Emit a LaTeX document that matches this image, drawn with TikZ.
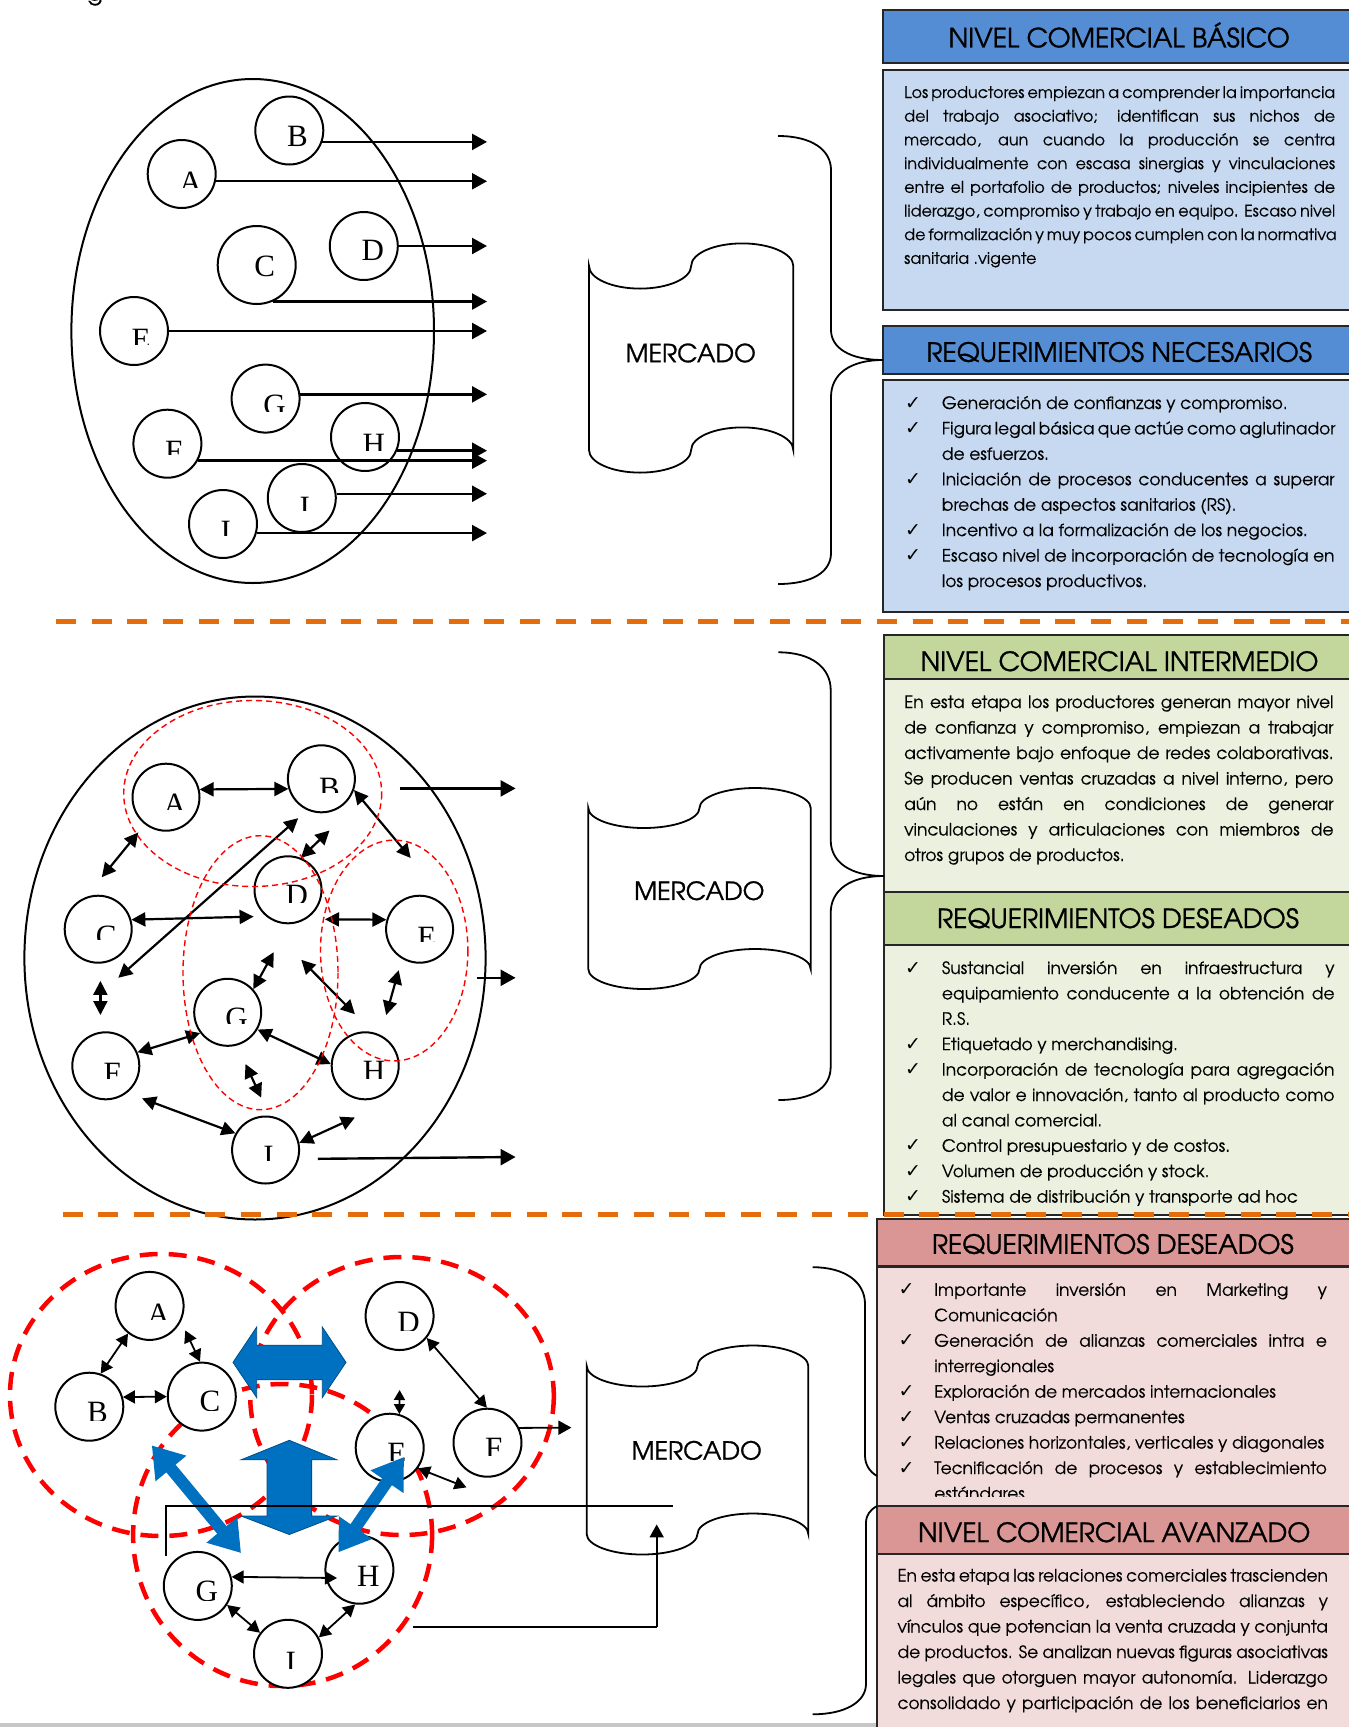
\documentclass[tikz,border=0pt]{standalone}
\usepackage{fontspec}
\setmainfont{texgyreadventor-regular.otf}[FakeBold=0.35]
\newfontfamily\headf{texgyreadventor-regular.otf}[FakeBold=1.0]
\newfontfamily\serifL{Liberation Serif}
\newfontfamily\symf{DejaVu Sans}
\usetikzlibrary{arrows.meta,calc}

\definecolor{bluehead}{RGB}{84,141,212}
\definecolor{bluebody}{RGB}{198,217,241}
\definecolor{greenhead}{RGB}{195,214,155}
\definecolor{greenbody}{RGB}{235,241,222}
\definecolor{pinkhead}{RGB}{217,150,148}
\definecolor{pinkbody}{RGB}{242,220,219}
\definecolor{dashorange}{RGB}{228,108,10}
\definecolor{blockblue}{RGB}{0,112,192}

% one line of a text block: justified or ragged
\newdimen\ckind
\newcommand\JLine[1]{\hbox to\hsize{#1}}
\newcommand\LLine[1]{\hbox to\hsize{#1\hfil}}
\newcommand\ChkMark{\hbox to\ckind{{\symf\fontsize{19}{19}\selectfont ✓}\hfil}}
\newcommand\ChkJ[1]{\hbox to\hsize{\ChkMark#1}}
\newcommand\ChkL[1]{\hbox to\hsize{\ChkMark#1\hfil}}
\newcommand\ConJ[1]{\hbox to\hsize{\hskip\ckind\relax#1}}
\newcommand\ConL[1]{\hbox to\hsize{\hskip\ckind\relax#1\hfil}}
\newcommand\TitleF{\headf\fontsize{26.5}{26.5}\selectfont}

% letter inside a circle, cut off a little above its baseline
% #1 circle, #2 letter, #3 baseline offset, #4 cut height
\newcommand\circletter[4]{%
  \begin{scope}
    \clip ($(#1)+(-40,-45)$) rectangle ($(#1)+(40,{#3-#4})$);
    \node[lettertext, anchor=base west] (#1-l) at ($(#1)+(-2.5,#3)$) {#2};
  \end{scope}}

% punched-tape outline: x0, y0, width, height, wave depth
\newcommand\tapeshape[5]{%
  \draw[tapeline] (#1,#2)
    .. controls (#1,{#2+0.55*#5}) and ({#1+0.45*#3/4},{#2+#5}) .. ({#1+#3/4},{#2+#5})
    .. controls ({#1+1.55*#3/4},{#2+#5}) and ({#1+#3/2},{#2+0.55*#5}) .. ({#1+#3/2},#2)
    .. controls ({#1+#3/2},{#2-0.55*#5}) and ({#1+2.45*#3/4},{#2-#5}) .. ({#1+3*#3/4},{#2-#5})
    .. controls ({#1+3.55*#3/4},{#2-#5}) and ({#1+#3},{#2-0.55*#5}) .. ({#1+#3},#2)
    -- ({#1+#3},{#2+#4})
    .. controls ({#1+#3},{#2+#4-0.55*#5}) and ({#1+3.55*#3/4},{#2+#4-#5}) .. ({#1+3*#3/4},{#2+#4-#5})
    .. controls ({#1+2.45*#3/4},{#2+#4-#5}) and ({#1+#3/2},{#2+#4-0.55*#5}) .. ({#1+#3/2},{#2+#4})
    .. controls ({#1+#3/2},{#2+#4+0.55*#5}) and ({#1+1.55*#3/4},{#2+#4+#5}) .. ({#1+#3/4},{#2+#4+#5})
    .. controls ({#1+0.45*#3/4},{#2+#4+#5}) and (#1,{#2+#4+0.55*#5}) .. (#1,{#2+#4})
    -- cycle;}

\begin{document}
\begin{tikzpicture}[x=1pt,y=-1pt,
  boxline/.style={draw=black!85,line width=2pt},
  circ/.style={circle,draw,line width=2pt,fill=white,minimum size=68pt,inner sep=0pt},
  lettertext/.style={inner sep=0pt,font=\serifL\fontsize{31}{31}\selectfont},
  bigoval/.style={draw,line width=2pt},
  arr/.style={line width=2.4pt,-{Triangle[length=15pt,width=16pt]}},
  darr/.style={line width=2.2pt,{Triangle[length=14pt,width=14pt]}-{Triangle[length=14pt,width=14pt]}},
  sarr/.style={line width=1.8pt,{Triangle[length=12pt,width=13pt]}-{Triangle[length=12pt,width=13pt]}},
  tinyarr/.style={line width=1.8pt,{Triangle[length=10pt,width=11pt]}-{Triangle[length=10pt,width=11pt]}},
  oarr/.style={line width=1.8pt,-{Triangle[length=13pt,width=14pt]}},
  plainline/.style={line width=1.8pt},
  tapeline/.style={line width=1.8pt,fill=white},
  curlyline/.style={line width=1.8pt},
  reddash/.style={draw=red,line width=1.4pt,dash pattern=on 6pt off 4pt},
  redthick/.style={draw=red,line width=4.5pt,dash pattern=on 18pt off 11pt},
  orangedash/.style={draw=dashorange,line width=5pt,dash pattern=on 20pt off 15.7pt},
  blockarrow/.style={fill=blockblue,draw=blockblue!70!black,line width=0.8pt},
  bluediag/.style={draw=blockblue,line width=12pt,{Triangle[length=30pt,width=38pt]}-{Triangle[length=30pt,width=38pt]}},
  mkt/.style={inner sep=0pt,font=\headf\fontsize{25}{25}\selectfont},
  ttl/.style={anchor=base,inner sep=0pt,font=\TitleF},
  txt/.style={anchor=base west,inner sep=0pt}]

\useasboundingbox (0,0) rectangle (1349,1727);
\fill[white] (0,0) rectangle (1349,1727);
\node[anchor=base,inner sep=0pt,font=\fontsize{24}{24}\selectfont] (gfrag) at (95,0.5) {g};

% ---------------- right-hand panels ----------------
\draw[boxline,fill=bluehead] (883.3,10) rectangle (1352,63);
\draw[boxline,fill=bluebody] (883.3,70.4) rectangle (1352,310.4);
\draw[boxline,fill=bluehead] (883.3,326) rectangle (1352,373.7);
\draw[boxline,fill=bluebody] (883.3,380) rectangle (1352,612);

\draw[boxline,fill=greenhead] (884,635.3) rectangle (1352,679.3);
\draw[boxline,fill=greenbody] (884,679.3) rectangle (1352,891.7);
\draw[boxline,fill=greenhead] (884,891.7) rectangle (1352,945.3);
\draw[boxline,fill=greenbody] (884,945.3) rectangle (1352,1215);

\draw[boxline,fill=pinkhead] (877.3,1218.5) rectangle (1352,1265.5);
\draw[boxline,fill=pinkbody] (877.3,1266.6) rectangle (1352,1505.9);
\draw[boxline,fill=pinkhead] (877.3,1505.9) rectangle (1352,1553.6);
\draw[boxline,fill=pinkbody] (877.3,1553.6) rectangle (1352,1732);
\fill[black!22] (0,1722.5) rectangle (876,1727);

\node[ttl] (h1) at (1119.2,47.4) {NIVEL COMERCIAL BÁSICO};
\node[ttl] (h2) at (1119.2,361.8) {REQUERIMIENTOS NECESARIOS};
\node[ttl] (h3) at (1119.5,671) {NIVEL COMERCIAL INTERMEDIO};
\node[ttl] (h4) at (1118,928) {REQUERIMIENTOS DESEADOS};
\node[ttl] (h5) at (1112.8,1253.8) {REQUERIMIENTOS DESEADOS};
\node[ttl] (h6) at (1114.2,1542) {NIVEL COMERCIAL AVANZADO};

\node[txt] (p1) at (904,98) {\vtop{\hsize=431pt\fontsize{16}{23.7}\selectfont
  \JLine{Los productores empiezan a comprender la importancia}
  \JLine{del trabajo asociativo; identifican sus nichos de}
  \JLine{mercado, aun cuando la producción se centra}
  \JLine{individualmente con escasa sinergias y vinculaciones}
  \JLine{entre el portafolio de productos; niveles incipientes de}
  \JLine{liderazgo, compromiso y trabajo en equipo. Escaso nivel}
  \JLine{de formalización y muy pocos cumplen con la normativa}
  \LLine{sanitaria .vigente}}};

\node[txt] (p2) at (905,409) {\vtop{\hsize=429.3pt\ckind=36.7pt\fontsize{17}{25.43}\selectfont
  \ChkL{Generación de confianzas y compromiso.}
  \ChkJ{Figura legal básica que actúe como aglutinador}
  \ConL{de esfuerzos.}
  \ChkJ{Iniciación de procesos conducentes a superar}
  \ConL{brechas de aspectos sanitarios (RS).}
  \ChkL{Incentivo a la formalización de los negocios.}
  \ChkJ{Escaso nivel de incorporación de tecnología en}
  \ConL{los procesos productivos.}}};

\node[txt] (p3) at (904,708) {\vtop{\hsize=429.3pt\fontsize{17}{25.5}\selectfont
  \JLine{En esta etapa los productores generan mayor nivel}
  \JLine{de confianza y compromiso, empiezan a trabajar}
  \JLine{activamente bajo enfoque de redes colaborativas.}
  \JLine{Se producen ventas cruzadas a nivel interno, pero}
  \JLine{aún no están en condiciones de generar}
  \JLine{vinculaciones y articulaciones con miembros de}
  \LLine{otros grupos de productos.}}};

\node[txt] (p4) at (905,974) {\vtop{\hsize=429.3pt\ckind=36.7pt\fontsize{17}{25.4}\selectfont
  \ChkJ{Sustancial inversión en infraestructura y}
  \ConJ{equipamiento conducente a la obtención de}
  \ConL{R.S.}
  \ChkL{Etiquetado y merchandising.}
  \ChkJ{Incorporación de tecnología para agregación}
  \ConJ{de valor e innovación, tanto al producto como}
  \ConL{al canal comercial.}
  \ChkL{Control presupuestario y de costos.}
  \ChkL{Volumen de producción y stock.}
  \ChkL{Sistema de distribución y transporte ad hoc}}};

\begin{scope}
  \clip (877,1267) rectangle (1352,1496);
  \node[txt] (p5) at (898.3,1295.8) {\vtop{\hsize=428.4pt\ckind=35.7pt\fontsize{17}{25.46}\selectfont
    \ChkJ{Importante inversión en Marketing y}
    \ConL{Comunicación}
    \ChkJ{Generación de alianzas comerciales intra e}
    \ConL{interregionales}
    \ChkL{Exploración de mercados internacionales}
    \ChkL{Ventas cruzadas permanentes}
    \ChkL{Relaciones horizontales, verticales y diagonales}
    \ChkJ{Tecnificación de procesos y establecimiento}
    \ConL{estándares}}};
\end{scope}

\node[txt] (p6) at (897.3,1581.5) {\vtop{\hsize=430.4pt\fontsize{17}{25.5}\selectfont
  \JLine{En esta etapa las relaciones comerciales trascienden}
  \JLine{al ámbito específico, estableciendo alianzas y}
  \JLine{vínculos que potencian la venta cruzada y conjunta}
  \JLine{de productos. Se analizan nuevas figuras asociativas}
  \JLine{legales que otorguen mayor autonomía. Liderazgo}
  \JLine{consolidado y participación de los beneficiarios en}}};

% ---------------- basic level: isolated producers ----------------
\draw[bigoval] (252.7,331) ellipse (181.3 and 252);
\node[circ] (tA) at (181.7,174) {};
\node[circ] (tB) at (289.3,130.5) {};
\node[circ,minimum size=78pt] (tC) at (256.7,265) {};
\node[circ] (tD) at (363.8,246) {};
\node[circ] (tE) at (134,331) {};
\node[circ] (tG) at (265.6,398.6) {};
\node[circ] (tF) at (167.4,443.7) {};
\node[circ] (tH) at (365,437) {};
\node[circ] (tJ) at (301.8,498) {};
\node[circ] (tI) at (223,524) {};
\circletter{tA}{A}{18.5}{4.7}
\circletter{tB}{B}{15.7}{0}
\circletter{tC}{C}{11.7}{0}
\circletter{tD}{D}{14.9}{0}
\circletter{tE}{E}{18.9}{5.9}
\circletter{tG}{G}{16.5}{3.9}
\circletter{tF}{F}{17.7}{6.7}
\circletter{tH}{H}{17.7}{4.7}
\circletter{tJ}{I}{19.9}{7.9}
\circletter{tI}{I}{17.7}{5.9}
\coordinate (rimT) at (487,0);
\foreach \n/\a in {tB/-19,tA/-12,tD/0,tC/-66,tE/0,tG/7,tH/-23,tF/-29,tJ/7,tI/-15}
  \draw[arr] (\n.\a) -- (\n.\a -| rimT);

\tapeshape{589}{266}{204.3}{184}{22.6}
\node[mkt] (mk1) at (690.7,353) {MERCADO};
\draw[curlyline] (778,136) .. controls (812,136) and (831,150) .. (831,170) -- (831,330)
  .. controls (831,348) and (850,360) .. (883,360)
  .. controls (850,360) and (831,374) .. (831,397) -- (831,553)
  .. controls (831,572) and (812,584) .. (778,584);

% ---------------- intermediate level: internal network ----------------
\draw[bigoval] (255,958) ellipse (230.6 and 261.5);
\foreach \n/\x/\y in {mA/166/797.2,mB/321.4/778.8,mD/288/889.8,mC/98.2/929.2,mE/419.6/929.2,
    mG/227.7/1012.3,mF/105.8/1065.8,mH/365.2/1065.8,mI/265.6/1150}
  \node[circ,minimum size=67pt] (\n) at (\x,\y) {};
\circletter{mA}{A}{17}{4.6}
\circletter{mB}{B}{20}{6.7}
\circletter{mD}{D}{16}{3}
\circletter{mC}{C}{17}{6.5}
\circletter{mE}{E}{18.5}{6}
\circletter{mG}{G}{16}{4.5}
\circletter{mF}{F}{18}{5}
\circletter{mH}{H}{16}{3}
\circletter{mI}{I}{16}{6}

\path (138.4,832.4) coordinate (m2a) (101.8,877.2) coordinate (m2b)
      (410.7,858) coordinate (m3b)
      (298.2,818.2) coordinate (m4a) (118.3,977.8) coordinate (m4b)
      (329.5,830.5) coordinate (m5a)
      (253.6,916.6) coordinate (m6b)
      (325,919.3) coordinate (m7a)
      (273.7,952.2) coordinate (m8a)
      (301.3,959.8) coordinate (m9a) (354.9,1014.2) coordinate (m9b)
      (398.7,970.2) coordinate (m10a) (386.2,1015) coordinate (m10b)
      (100.4,980.9) coordinate (m11a) (100.4,1015) coordinate (m11b)
      (245.5,1064) coordinate (m14a) (261.2,1097.6) coordinate (m14b)
      (142,1098.4) coordinate (m15a)
      (354.9,1117.5) coordinate (m16b)
      (399.6,788.4) coordinate (o1a) (515.6,788.4) coordinate (o1b)
      (476.8,977.8) coordinate (o2a) (515.6,977.8) coordinate (o2b)
      (317.9,1158.8) coordinate (o3a) (515.6,1157) coordinate (o3b);
\draw[darr] (mA.13) -- (mB.197);
\draw[darr] (m2a) -- (m2b);
\draw[darr] (mB.-19) -- (m3b);
\draw[darr] (m4a) -- (m4b);
\draw[darr] (m5a) -- (mD.68);
\draw[darr] (mC.16) -- (m6b);
\draw[darr] (m7a) -- (mE.164);
\draw[darr] (m8a) -- (mG.42);
\draw[darr] (m9a) -- (m9b);
\draw[darr] (m10a) -- (m10b);
\draw[darr] (m11a) -- (m11b);
\draw[darr] (mF.23) -- (mG.217);
\draw[darr] (mG.-30) -- (mH.177);
\draw[darr] (m14a) -- (m14b);
\draw[darr] (m15a) -- (mI.151);
\draw[darr] (mI.12) -- (m16b);
\draw[arr] (o1a) -- (o1b);
\draw[arr] (o2a) -- (o2b);
\draw[arr] (o3a) -- (o3b);

\draw[reddash] (252.7,793.5) ellipse (129 and 93);
\draw[reddash] (260.5,972.7) ellipse (77.5 and 137);
\draw[reddash] (394.2,950.5) ellipse (73.7 and 110.4);

\tapeshape{588.3}{808}{222.4}{161}{20}
\node[mkt] (mk2) at (699.3,890.7) {MERCADO};
\draw[curlyline] (778.3,652.3) .. controls (812,652.3) and (830.7,668) .. (830.7,690) -- (830.7,840)
  .. controls (830.7,862) and (850,876) .. (884,876)
  .. controls (850,876) and (830.7,890) .. (830.7,913) -- (830.7,1066.7)
  .. controls (830.7,1088) and (812,1100) .. (778.3,1100);

% ---------------- advanced level: linked groups ----------------
\draw[redthick] (161,1395) ellipse (151 and 141);
\draw[redthick] (402,1396) ellipse (151.8 and 139);
\draw[redthick] (282.6,1535) ellipse (149.5 and 151);

\tapeshape{586.7}{1366}{221.6}{168}{20.5}
\node[mkt] (mk3) at (696.7,1450.4) {MERCADO};

\foreach \n/\x/\y in {bA/149.6/1305.9,bB/89.3/1406.7,bC/201.8/1396.6,bD/399.6/1316,bE/389.7/1447.7,
    bF/487.5/1442.7,bG/197.8/1585.9,bH/359.4/1569.7,bI/288/1653.8}
  \node[circ] (\n) at (\x,\y) {};
\circletter{bA}{A}{18.3}{4.3}
\circletter{bB}{B}{16}{2.5}
\circletter{bC}{C}{15}{1.5}
\circletter{bD}{D}{16.7}{2.3}
\circletter{bE}{E}{16}{3.2}
\circletter{bF}{F}{16}{3}
\circletter{bG}{G}{15.7}{1.6}
\circletter{bH}{H}{16.7}{0}
\circletter{bI}{I}{18.3}{4}

\path (185.3,1330.4) coordinate (q2a)
      (399.6,1390) coordinate (q5a)
      (466.5,1487.4) coordinate (q6b)
      (571.4,1427.6) coordinate (q7b)
      (337,1578) coordinate (q8b);
\draw[sarr] (bA.232) -- (bB.71);
\draw[sarr] (q2a) -- (bC.93);
\draw[sarr] (bB.16) -- (bC.180);
\draw[sarr] (bD.-39) -- (bF.91);
\draw[tinyarr] (q5a) -- (bE.74);
\draw[sarr] (bE.-36) -- (q6b);
\draw[oarr] (bF.25) -- (q7b);
\draw[sarr] (bG.15) -- (q8b);
\draw[sarr] (bG.-33) -- (bI.143);
\draw[sarr] (bH.263) -- (bI.28);

% wide blue exchange arrows between the groups
\draw[blockarrow] (233,1362.4) -- (256.7,1327) -- (256.7,1345.2) -- (322.3,1345.2) -- (322.3,1327)
  -- (346,1362.4) -- (322.3,1397.6) -- (322.3,1379.8) -- (256.7,1379.8) -- (256.7,1397.6) -- cycle;
\draw[blockarrow] (289.3,1440.3) -- (337,1459.8) -- (311.6,1459.8) -- (311.6,1516) -- (337,1516)
  -- (289.3,1534.5) -- (241,1516) -- (267,1516) -- (267,1459.8) -- (241,1459.8) -- cycle;
\path (151.8,1445.4) coordinate (d1a) (241,1553) coordinate (d1b)
      (404,1457) coordinate (d2a) (338.4,1552.3) coordinate (d2b);
\draw[bluediag] (d1a) -- (d1b);
\draw[bluediag] (d2a) -- (d2b);

% feedback lines towards the market
\path (166,1555.6) coordinate (L1a) (166,1505.9) coordinate (L1b) (673.3,1505.9) coordinate (L1c)
      (413,1627) coordinate (L2a) (656.7,1627) coordinate (L2b) (656.7,1524.4) coordinate (L2c);
\draw[plainline] (L1a) -- (L1b) -- (L1c);
\draw[plainline] (L2a) -- (L2b);
\draw[oarr] (L2b) -- (L2c);

\draw[curlyline] (812.7,1267.2) .. controls (845,1267.2) and (865,1282) .. (865,1304) -- (865,1455.5)
  .. controls (865,1465) and (870,1472) .. (877,1476);
\draw[curlyline] (877,1506) .. controls (870,1510) and (866,1515) .. (866,1523) -- (866,1684)
  .. controls (866,1702) and (845,1714.3) .. (812.7,1714.3);

% ---------------- level separators ----------------
\draw[orangedash] (55.8,621) -- (1352,621);
\draw[orangedash] (62.5,1214) -- (1352,1214);
\end{tikzpicture}
\end{document}
